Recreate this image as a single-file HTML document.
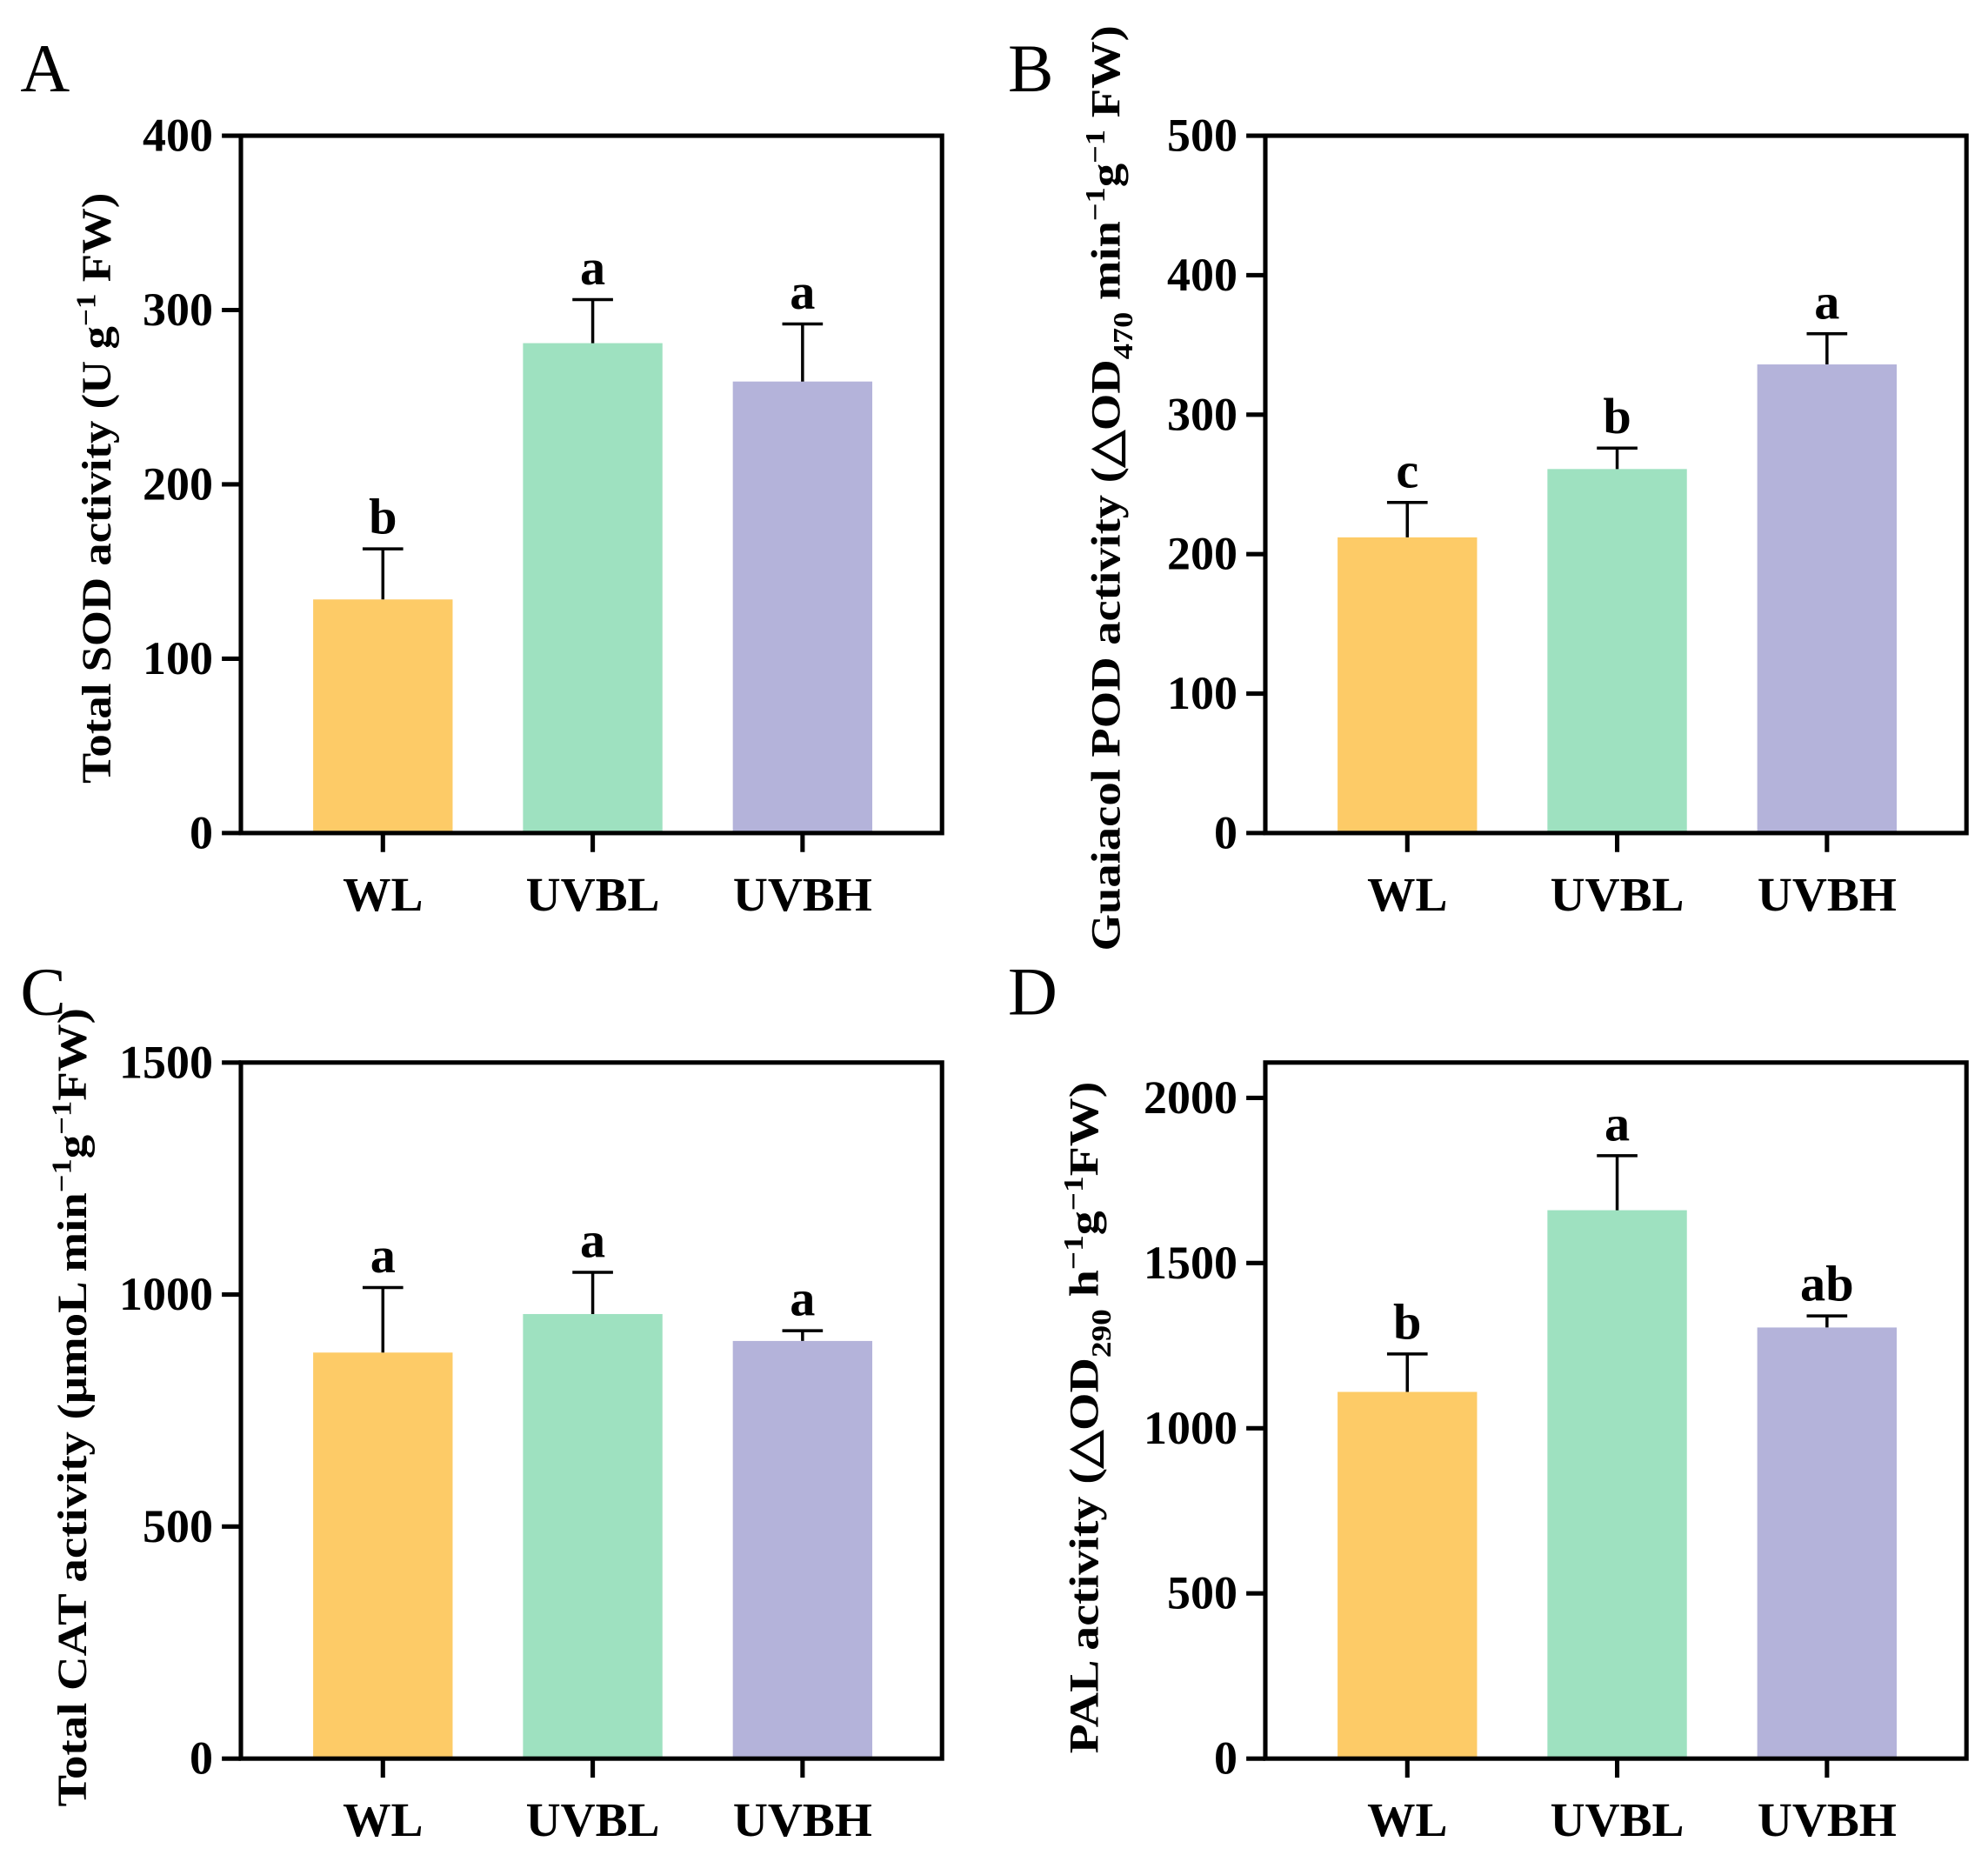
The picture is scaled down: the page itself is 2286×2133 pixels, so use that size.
<!DOCTYPE html>
<html><head><meta charset="utf-8"><style>
html,body{margin:0;padding:0;background:#fff}
svg{display:block}
text{font-family:"Liberation Serif",serif}
</style></head><body>
<svg id="fig" width="2286" height="2133" viewBox="0 0 1568 1463" xmlns="http://www.w3.org/2000/svg">
<g font-weight="bold" font-size="33">
<text transform="translate(87,385) rotate(-90)" text-anchor="middle" textLength="466" lengthAdjust="spacingAndGlyphs">Total SOD activity (U g<tspan font-size="22" dy="-12">−1</tspan><tspan dy="12"> FW)</tspan></text>
<text transform="translate(883,385) rotate(-90)" text-anchor="middle" textLength="730" lengthAdjust="spacingAndGlyphs">Guaiacol POD activity (△OD<tspan font-size="22" dy="10">470</tspan><tspan dy="-10"> min</tspan><tspan font-size="22" dy="-12">−1</tspan><tspan dy="12">g</tspan><tspan font-size="22" dy="-12">−1</tspan><tspan dy="12"> FW)</tspan></text>
<text transform="translate(68,1110) rotate(-90)" text-anchor="middle" textLength="630" lengthAdjust="spacingAndGlyphs">Total CAT activity (μmoL min<tspan font-size="22" dy="-12">−1</tspan><tspan dy="12">g</tspan><tspan font-size="22" dy="-12">−1</tspan><tspan dy="12">FW)</tspan></text>
<text transform="translate(866,1118) rotate(-90)" text-anchor="middle" textLength="530" lengthAdjust="spacingAndGlyphs">PAL activity (△OD<tspan font-size="22" dy="10">290</tspan><tspan dy="-10"> h</tspan><tspan font-size="22" dy="-12">−1</tspan><tspan dy="12">g</tspan><tspan font-size="22" dy="-12">−1</tspan><tspan dy="12">FW)</tspan></text>
</g>
</svg>
<script>
const categories = ["WL","UVBL","UVBH"];
const colors = ["#FDCB67","#9EE1C0","#B4B3DA"];
const sodValues = [134,281,259];
const sodErrors = [29,25,33];
const sodLetters = ["b","a","a"];
const sodTicks = [0,100,200,300,400];
const podValues = [212,261,336];
const podErrors = [25,15,22];
const podLetters = ["c","b","a"];
const podTicks = [0,100,200,300,400,500];
const catValues = [875,958,900];
const catErrors = [140,90,22];
const catLetters = ["a","a","a"];
const catTicks = [0,500,1000,1500];
const palValues = [1110,1660,1305];
const palErrors = [115,165,35];
const palLetters = ["b","a","ab"];
const palTicks = [0,500,1000,1500,2000];

const NS="http://www.w3.org/2000/svg";
const svg=document.getElementById('fig');
function mk(tag,attrs,parent){const e=document.createElementNS(NS,tag);for(const k in attrs)e.setAttribute(k,attrs[k]);(parent||svg).appendChild(e);return e;}

function panel(id,letter,lx,ly,box,ymax,vals,errs,lets,ticks){
  const g=mk('g',{});
  
  
  const [L,T,R,B]=box;
  const y=v=>B-(v/ymax)*(B-T);
  const t=mk('text',{x:lx,y:ly,'font-size':54},g);
  t.textContent=letter;
  
  
  vals.forEach((v,i)=>{
    const cx=L+57+55+i*165.5;
    const r=mk('rect',{x:cx-55,y:y(v),width:110,height:B-y(v),fill:colors[i]},g);
    
    
    const et=y(v+errs[i]);
    const e=mk('path',{d:`M${cx},${y(v)}V${et}M${cx-16},${et}H${cx+16}`,stroke:'#000','stroke-width':2.4,fill:'none'},g);
    
    
    const s=mk('text',{x:cx,y:et-12,'text-anchor':'middle','font-size':40,'font-weight':'bold'},g);
    s.textContent=lets[i];
    
    
    const tk=mk('line',{x1:cx,x2:cx,y1:B,y2:B+15,stroke:'#000','stroke-width':3.5},g);
    
    
    const xl=mk('text',{x:cx,y:B+61,'text-anchor':'middle','font-size':38,'font-weight':'bold'},g);
    xl.textContent=categories[i];
    
    
  });
  ticks.forEach(tv=>{
    const ln=mk('line',{x1:L-15,x2:L,y1:y(tv),y2:y(tv),stroke:'#000','stroke-width':3.5},g);
    
    
    const tl=mk('text',{x:L-22,y:y(tv)+12,'text-anchor':'end','font-size':37,'font-weight':'bold'},g);
    tl.textContent=tv;
    
    
  });
  const fr=mk('rect',{x:L,y:T,width:R-L,height:B-T,fill:'none',stroke:'#000','stroke-width':3.5},g);
  
  
}
panel('a','A',16,72,[190,107,743,657],400,sodValues,sodErrors,sodLetters,sodTicks);
panel('b','B',795,72,[998,107,1551,657],500,podValues,podErrors,podLetters,podTicks);
panel('c','C',16,800,[190,838,743,1387],1500,catValues,catErrors,catLetters,catTicks);
panel('d','D',795,800,[998,838,1551,1387],2107,palValues,palErrors,palLetters,palTicks);
</script>
</body></html>
